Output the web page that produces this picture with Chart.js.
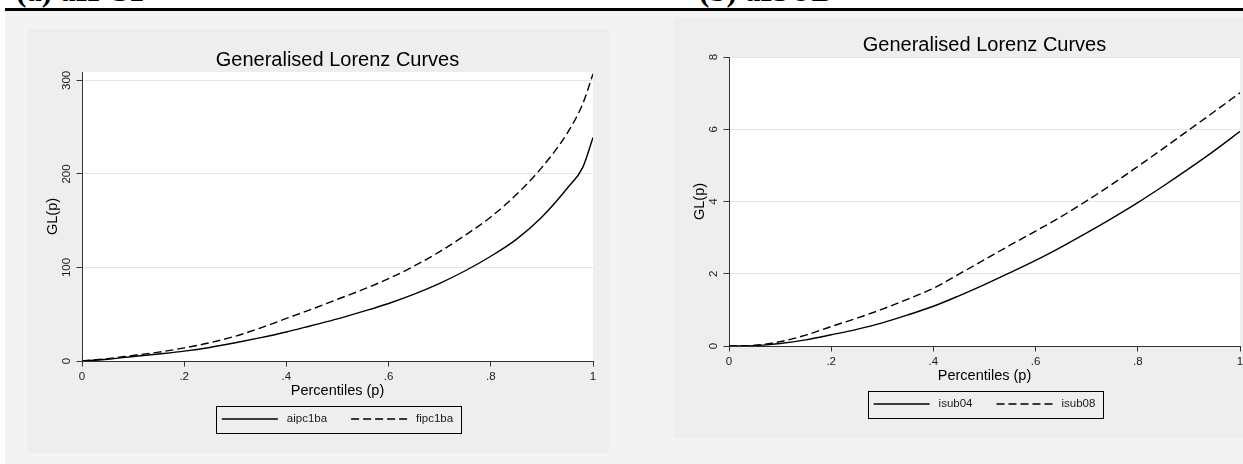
<!DOCTYPE html>
<html>
<head>
<meta charset="utf-8">
<script src="https://cdn.jsdelivr.net/npm/chart.js@4.4.0/dist/chart.umd.min.js"></script>
<style>
  html, body { margin: 0; padding: 0; background: #fff; }
  body { width: 1243px; height: 464px; overflow: hidden; position: relative; }
  .cap { position: absolute; top: -24px; font: bold 31px 'Liberation Serif', 'Times New Roman', serif; line-height: 30px; white-space: nowrap; color: #000; }
  .rule { position: absolute; left: 5px; right: 0; top: 8px; height: 3px; background: #000; }
  .outer { position: absolute; left: 5px; top: 11px; right: 0; bottom: 0; background: #f3f3f3; }
  .inner { position: absolute; background: #eeeeee; }
  canvas { position: absolute; }
</style>
</head>
<body>
<div class="cap" style="left:16px">(a) aIPC1</div>
<div class="cap" style="left:699px">(b) aISUB</div>
<div class="rule"></div>
<div class="outer"></div>
<div class="inner" style="left:27px; top:29px; width:582px; height:424px"></div>
<div class="inner" style="left:673px; top:17px; width:570px; height:421px"></div>
<canvas id="chartA" width="577" height="414" style="left:26px; top:32px"></canvas>
<canvas id="chartB" width="577" height="414" style="left:673px; top:17px"></canvas>
<script>
// percentiles (p) and generalised Lorenz ordinates
const pctA = [0, .05, .1, .15, .2, .25, .3, .35, .4, .45, .5, .55, .6, .65, .7, .75, .8, .85, .9, .95, .98, 1];
const aipc1ba = [0, 1.8, 4.8, 7.5, 10.5, 14.5, 19.5, 25, 31, 38, 45, 53, 61.5, 71.5, 83, 96.5, 112, 130, 154, 185, 207, 239];
const fipc1ba = [0, 2.5, 6, 9.5, 14, 19.5, 26.5, 35.5, 45.5, 55.5, 66, 76.5, 88, 101.5, 117, 134.5, 154, 178, 207, 244, 275, 307];

const pctB = [0, .05, .1, .15, .2, .25, .3, .35, .4, .45, .5, .55, .6, .65, .7, .75, .8, .85, .9, .95, 1];
const isub04 = [0, 0.01, 0.07, 0.17, 0.31, 0.46, 0.64, 0.86, 1.10, 1.39, 1.70, 2.03, 2.37, 2.74, 3.13, 3.54, 3.97, 4.43, 4.91, 5.41, 5.94];
const isub08 = [0, 0.02, 0.12, 0.30, 0.54, 0.77, 1.02, 1.30, 1.60, 1.99, 2.39, 2.79, 3.18, 3.58, 4.02, 4.48, 4.97, 5.47, 5.98, 6.49, 7.01];

const xTicks = [0, .2, .4, .6, .8, 1];
const xTickLabels = ['0', '.2', '.4', '.6', '.8', '1'];
const yTicksA = [0, 100, 200, 300];
const yTicksB = [0, 2, 4, 6, 8];

const FONT = "'Liberation Sans', Arial, Helvetica, sans-serif";
const INK = '#1a1a1a';
const AXIS = '#333333';

// white plot region
const plotBg = {
    id: 'plotBg',
    beforeDraw(chart) {
        const {ctx, chartArea: a} = chart;
        ctx.save();
        ctx.fillStyle = '#ffffff';
        ctx.fillRect(a.left, a.top, a.right - a.left, a.bottom - a.top);
        ctx.restore();
    }
};

// stata style box around the legend
const legendFrame = {
    id: 'legendFrame',
    afterDraw(chart) {
        const lg = chart.legend;
        const hb = lg.legendHitBoxes;
        if (!hb || !hb.length) return;
        const first = hb[0];
        const last = hb[hb.length - 1];
        const cy = lg.top + 24 + 5.75;
        const x0 = Math.round(first.left - 6) + 0.5;
        const x1 = Math.round(last.left + last.width + 8) + 0.5;
        const y0 = Math.round(cy - 13.5) + 0.5;
        const ctx = chart.ctx;
        ctx.save();
        ctx.strokeStyle = '#000';
        ctx.lineWidth = 1;
        ctx.strokeRect(x0, y0, x1 - x0, 27);
        ctx.restore();
    }
};

function toPoints(pct, vals) {
    return pct.map((p, i) => ({x: p, y: vals[i]}));
}

function makeChart(id, pct, names, series, yMax, yTicks, yPad) {
    const datasets = names.map((name, i) => ({
        label: name,
        data: toPoints(pct, series[i]),
        borderColor: '#000',
        backgroundColor: '#000',
        borderWidth: 1.4,
        borderDash: i === 1 ? [8, 4] : [],
        pointRadius: 0,
        cubicInterpolationMode: 'monotone',
        fill: false
    }));

    return new Chart(document.getElementById(id), {
        type: 'line',
        data: {datasets},
        options: {
            responsive: false,
            animation: false,
            layout: {padding: {left: 0, right: 10, top: 0, bottom: 11.25}},
            plugins: {
                title: {
                    display: true,
                    text: 'Generalised Lorenz Curves',
                    fullSize: false,
                    color: '#000',
                    font: {family: FONT, size: 20, weight: 'normal', lineHeight: 1},
                    padding: {top: 18, bottom: 2}
                },
                legend: {
                    display: true,
                    position: 'bottom',
                    fullSize: false,
                    labels: {
                        usePointStyle: true,
                        pointStyle: 'line',
                        pointStyleWidth: 56,
                        padding: 24,
                        color: INK,
                        font: {family: FONT, size: 11.5},
                        generateLabels(chart) {
                            const items = Chart.defaults.plugins.legend.labels.generateLabels(chart);
                            items.forEach(it => {
                                const ds = chart.data.datasets[it.datasetIndex];
                                it.text = ' ' + it.text;
                                it.lineDash = ds.borderDash;
                                it.lineWidth = ds.borderWidth;
                                it.strokeStyle = ds.borderColor;
                            });
                            return items;
                        }
                    }
                },
                tooltip: {enabled: false}
            },
            scales: {
                x: {
                    type: 'linear',
                    min: 0,
                    max: 1,
                    afterBuildTicks: s => { s.ticks = xTicks.map(v => ({value: v})); },
                    afterFit: s => { s.height = 28.25; },
                    grid: {drawOnChartArea: false, drawTicks: true, tickLength: 5.5, tickColor: AXIS, tickWidth: 1},
                    border: {display: true, color: AXIS, width: 1},
                    ticks: {
                        color: INK,
                        font: {family: FONT, size: 11.5},
                        padding: 3.6,
                        maxRotation: 0,
                        autoSkip: false,
                        callback: (v, i) => xTickLabels[i]
                    },
                    title: {
                        display: true,
                        text: 'Percentiles (p)',
                        color: '#000',
                        font: {family: FONT, size: 14.5, lineHeight: 1},
                        padding: {top: 0, bottom: -8.5}
                    }
                },
                y: {
                    type: 'linear',
                    min: 0,
                    max: yMax,
                    afterBuildTicks: s => { s.ticks = yTicks.map(v => ({value: v})); },
                    afterFit: s => { s.width = 56; },
                    grid: {color: '#e4e4e4', lineWidth: 1, drawTicks: true, tickLength: 5.5, tickColor: AXIS, tickWidth: 1},
                    border: {display: true, color: AXIS, width: 1},
                    ticks: {
                        color: INK,
                        font: {family: FONT, size: 11.5},
                        minRotation: 90,
                        maxRotation: 90,
                        crossAlign: 'center',
                        padding: yPad
                    },
                    title: {
                        display: true,
                        text: 'GL(p)',
                        color: '#000',
                        font: {family: FONT, size: 14.5, lineHeight: 1},
                        padding: {top: 19.75, bottom: 0}
                    }
                }
            }
        },
        plugins: [plotBg, legendFrame]
    });
}

makeChart('chartA', pctA, ['aipc1ba', 'fipc1ba'], [aipc1ba, fipc1ba], 309, yTicksA, 0);
makeChart('chartB', pctB, ['isub04', 'isub08'], [isub04, isub08], 8, yTicksB, 6.5);
</script>
</body>
</html>
